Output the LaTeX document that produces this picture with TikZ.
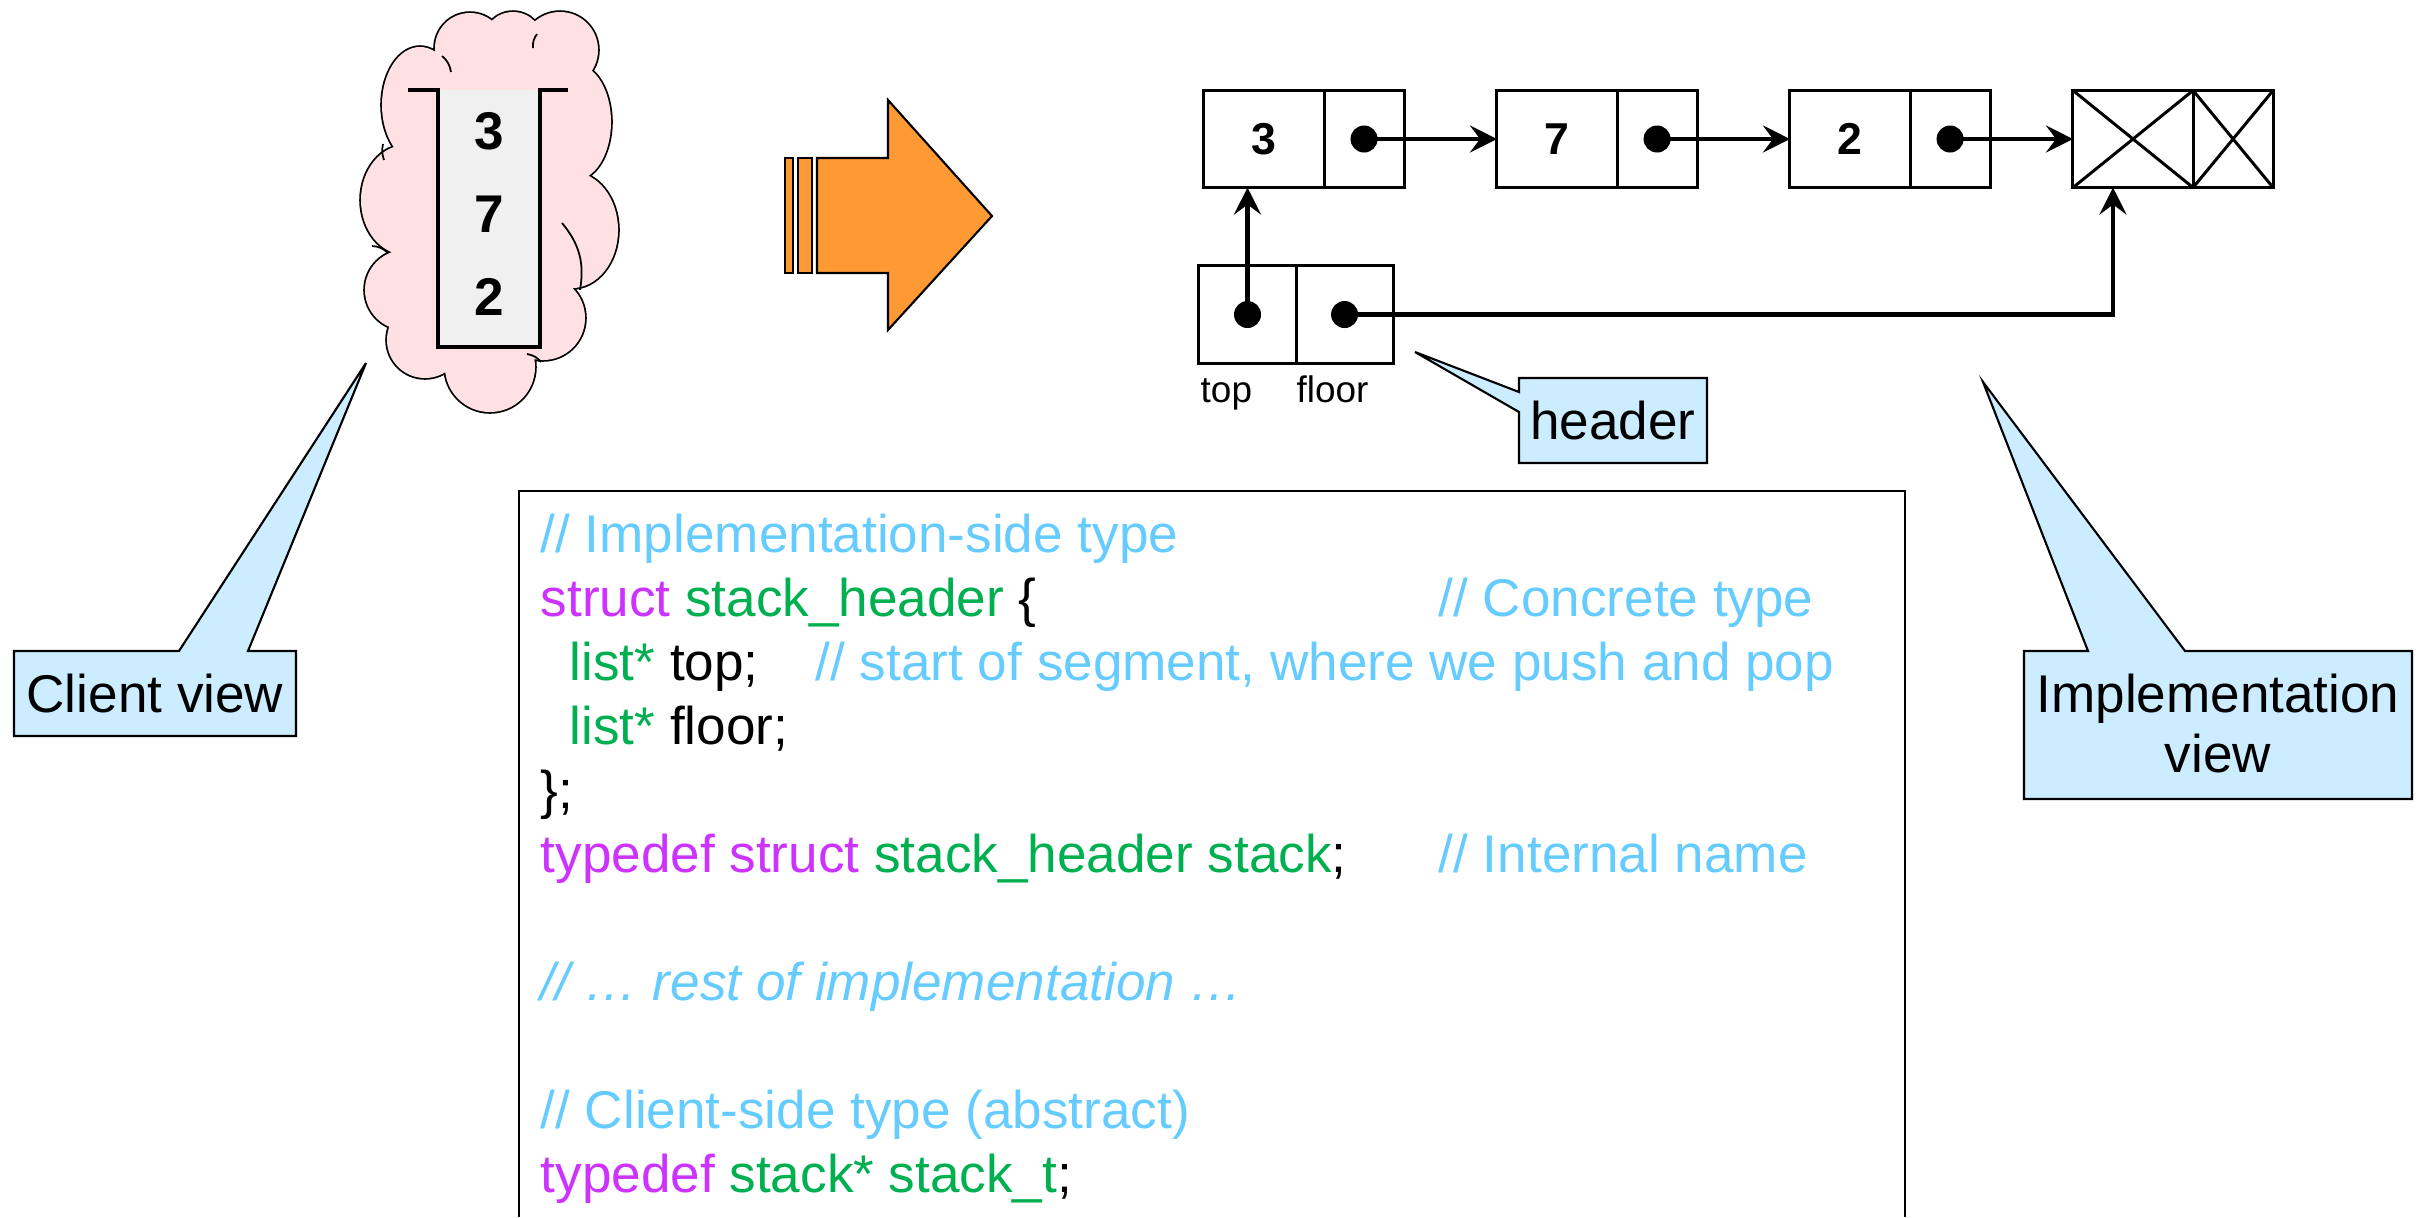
\documentclass[tikz,border=0pt]{standalone}
\usepackage{fontspec}
\setmainfont{Liberation Sans}
\usetikzlibrary{arrows.meta,positioning}

\definecolor{cloudpink}{HTML}{FFE1E4}
\definecolor{stackgray}{HTML}{F0F0F0}
\definecolor{noteblue}{HTML}{CCECFF}
\definecolor{arroworange}{HTML}{FF9933}
\definecolor{kwcolor}{HTML}{CC33FF}
\definecolor{tycolor}{HTML}{00B050}
\definecolor{cmcolor}{HTML}{66CCFF}

% syntax colours for the C code
\newcommand{\kwd}[1]{\textcolor{kwcolor}{#1}}
\newcommand{\typ}[1]{\textcolor{tycolor}{#1}}
\newcommand{\cmt}[1]{\textcolor{cmcolor}{#1}}

\tikzset{
  valcell/.style={draw, line width=0.85pt, minimum width=1.2cm, minimum height=0.97cm,
    inner sep=0pt, outer sep=0pt, font=\fontsize{12.7pt}{14pt}\selectfont\bfseries},
  ptrcell/.style={valcell, minimum width=0.8cm},
  hdrcell/.style={valcell, minimum width=0.97cm},
  ptr/.style={line width=1.15pt, -{Stealth[length=0.27cm,width=0.27cm,inset=0.1cm]}},
  stackdigit/.style={font=\fontsize{15.1pt}{17pt}\selectfont\bfseries, inner sep=0pt},
  note/.style={fill=noteblue, draw, line width=0.6pt},
  notetext/.style={font=\fontsize{15.1pt}{16.8pt}\selectfont, inner sep=0pt},
  code/.style={font=\fontsize{15.1pt}{18pt}\selectfont, anchor=base west, inner sep=0pt},
  tag/.style={font=\fontsize{10.5pt}{12pt}\selectfont, anchor=base west, inner sep=0pt},
}

\begin{document}
\begin{tikzpicture}[x=0.01cm, y=-0.01cm]
  \useasboundingbox (0,0) rectangle (2421,1217);

  % client side: the stack in a cloud (puffs outlined, then filled over)
  \def\puffs{(420,105) ellipse (0.38cm and 0.58cm) (470,48) circle (0.35cm)
    (513,42) circle (0.30cm) (560,50) circle (0.38cm) (575,122) ellipse (0.36cm and 0.58cm)
    (572,230) ellipse (0.46cm and 0.58cm) (543,318) circle (0.42cm) (490,367) circle (0.45cm)
    (425,340) circle (0.38cm) (405,290) circle (0.40cm) (406,200) ellipse (0.45cm and 0.55cm)}
  \draw[line width=1pt] \puffs;
  \fill[cloudpink] \puffs;
  \fill[cloudpink] (420,105) -- (470,48) -- (513,42) -- (560,50) -- (575,122) -- (572,230)
    -- (543,318) -- (490,367) -- (425,340) -- (405,290) -- (406,200) -- cycle;
  \begin{scope}[line width=0.5pt]
    \draw (451,72) to[bend right=20] (442,56);
    \draw (533,48) to[bend left=20] (537,34);
    \draw (562,223) to[bend left=25] (580,290);
    \draw (384,160) to[bend left=15] (383,144);
    \draw (388,253) to[bend right=20] (372,246);
    \draw (527,354) to[bend left=20] (541,362);
  \end{scope}
  \fill[stackgray] (438,90) rectangle (540,347);
  \draw[line width=1.3pt] (408,90) -- (438,90) -- (438,347) -- (540,347) -- (540,90) -- (568,90);
  \node[stackdigit] (s3) at (489,131) {3};
  \node[stackdigit] (s7) at (489,214) {7};
  \node[stackdigit] (s2) at (489,297) {2};

  % block arrow
  \begin{scope}[fill=arroworange, line width=0.6pt]
    \filldraw (785,158) rectangle (793,273);
    \filldraw (798,158) rectangle (812,273);
    \filldraw (817,158) -- (888,158) -- (888,100) -- (992,216) -- (888,330)
      -- (888,273) -- (817,273) -- cycle;
  \end{scope}

  % linked list
  \node[valcell] (n3) at (1264,139) {3};
  \node[ptrcell, right=0pt of n3] (p3) {};
  \node[valcell] (n7) at (1557,139) {7};
  \node[ptrcell, right=0pt of n7] (p7) {};
  \node[valcell] (n2) at (1850,139) {2};
  \node[ptrcell, right=0pt of n2] (p2) {};
  \node[valcell] (nx) at (2133,139) {};
  \node[ptrcell, right=0pt of nx] (px) {};
  \foreach \c in {nx,px}
    \draw[line width=0.85pt] (\c.north west) -- (\c.south east) (\c.south west) -- (\c.north east);

  % header
  \node[hdrcell] (top) at (1247.5,314.5) {};
  \node[hdrcell, right=0pt of top] (floor) {};
  \node[tag] (toplbl) at (1200,402) {top};
  \node[tag] (floorlbl) at (1296,402) {floor};

  \foreach \c in {p3,p7,p2,top,floor}
    \fill (\c) circle (0.135cm);
  \begin{scope}[ptr]
    \draw (p3.center) -- (n7);
    \draw (p7.center) -- (n2);
    \draw (p2.center) -- (nx);
    \draw (top.center) -- (top.center |- n3.south);
    \draw (floor.center) -| ([xshift=-0.2cm]nx.south);
  \end{scope}

  % callouts
  \filldraw[note] (1519,378) -- (1707,378) -- (1707,463) -- (1519,463) -- (1519,412)
    -- (1415,352) -- (1519,392) -- cycle;
  \node[notetext] (hdrnote) at (1613,421) {header};
  \filldraw[note] (14,651) -- (179,651) -- (366,363) -- (248,651) -- (296,651)
    -- (296,736) -- (14,736) -- cycle;
  \node[notetext] (cview) at (155,694) {Client view};
  \filldraw[note] (2024,651) -- (2088,651) -- (1983,382) -- (2185,651) -- (2412,651)
    -- (2412,799) -- (2024,799) -- cycle;
  \node[notetext, align=center, anchor=base] (iview) at (2218,772) {Implementation\\view};

  % code
  \draw[line width=0.6pt] (519,1217) -- (519,491) -- (1905,491) -- (1905,1217);
  \node[code] (c1) at (540,552) {\cmt{// Implementation-side type}};
  \node[code] (c2) at (540,616) {\kwd{struct} \typ{stack\_header} \{};
  \node[code] (c2c) at (1438,616) {\cmt{// Concrete type}};
  \node[code] (c3) at (569,680) {\typ{list*} top;};
  \node[code] (c3c) at (815,680) {\cmt{// start of segment, where we push and pop}};
  \node[code] (c4) at (569,744) {\typ{list*} floor;};
  \node[code] (c5) at (540,808) {\};};
  \node[code] (c6) at (540,872) {\kwd{typedef struct} \typ{stack\_header stack};};
  \node[code] (c6c) at (1438,872) {\cmt{// Internal name}};
  \node[code] (c8) at (540,1000) {\cmt{\itshape // … rest of implementation …}};
  \node[code] (c10) at (540,1128) {\cmt{// Client-side type (abstract)}};
  \node[code] (c11) at (540,1192) {\kwd{typedef} \typ{stack* stack\_t};};
\end{tikzpicture}
\end{document}
